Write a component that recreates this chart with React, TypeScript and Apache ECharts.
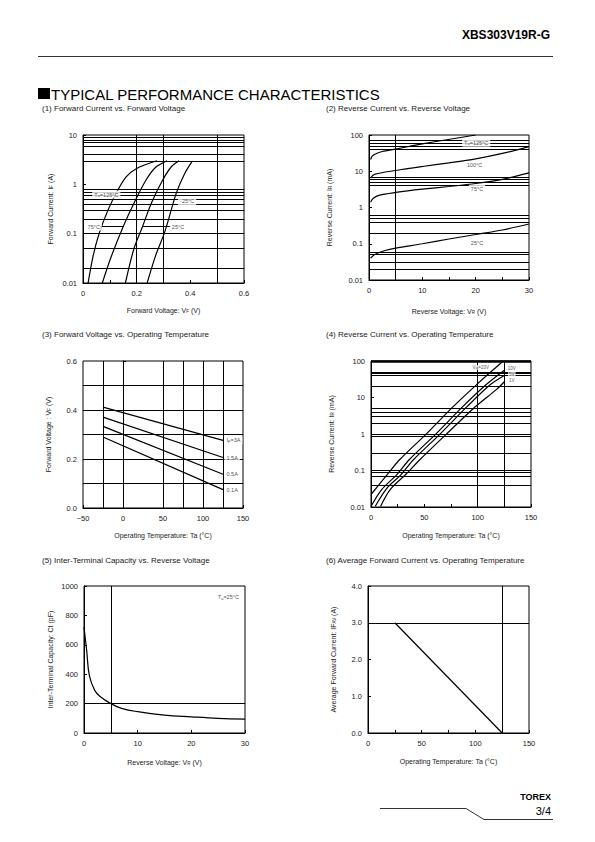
import React, { useEffect, useRef } from 'react';
import * as echarts from 'echarts';

const FONT = '"Liberation Sans", Arial, Helvetica, sans-serif';

// ---------- (1) Forward Current vs. Forward Voltage  [VF (V), IF (A)] ----------
const fwd125C = [[0.019, 0.01], [0.037, 0.034], [0.06, 0.1], [0.093, 0.3], [0.124, 0.67], [0.16, 1.4], [0.2, 2.1], [0.275, 3]];
const fwd75C = [[0.072, 0.01], [0.105, 0.034], [0.15, 0.14], [0.193, 0.45], [0.236, 1.25], [0.27, 2.2], [0.313, 3]];
const fwd25C = [[0.158, 0.01], [0.19, 0.05], [0.222, 0.14], [0.255, 0.42], [0.298, 1.25], [0.33, 2.3], [0.358, 3]];
const fwdM25C = [[0.239, 0.01], [0.27, 0.035], [0.305, 0.11], [0.348, 0.67], [0.38, 1.7], [0.408, 3]];
const c1HGrid = [9, 8, 7, 6, 4, 3, 0.8, 0.7, 0.6, 0.5, 0.4, 0.3, 0.2, 0.1, 0.05, 0.02];
const c1VGrid = [0.2, 0.3, 0.5];
const c1Notes = [
  { text: 'T{s|a}=125°C', at: [0.087, 0.62] },
  { text: '-25°C', at: [0.388, 0.46] },
  { text: '75°C', at: [0.04, 0.139] },
  { text: '25°C', at: [0.354, 0.139] },
];
const c1Arrows = [
  [[0.063, 0.139], [0.153, 0.139]],
  [[0.327, 0.139], [0.223, 0.139]],
];

// ---------- (2) Reverse Current vs. Reverse Voltage  [VR (V), IR (mA)] ----------
const rev125C = [[0.3, 21], [0.6, 26], [1.2, 30], [2.5, 35], [5, 41], [8, 50], [12, 64], [16, 80], [20, 100]];
const rev100C = [[0.3, 6.5], [1, 8.2], [5, 10.5], [10, 13.5], [15, 17], [20, 22], [25, 31], [30, 48]];
const rev75C = [[0.3, 1.4], [0.8, 1.8], [2, 2.2], [5, 2.6], [10, 3.2], [15, 3.8], [20, 4.6], [25, 6], [30, 9]];
const rev25C = [[0.3, 0.04], [1, 0.05], [3, 0.065], [5, 0.076], [10, 0.1], [15, 0.135], [20, 0.18], [25, 0.24], [30, 0.35]];
const c2HGrid = [70, 60, 50, 40, 7, 6, 5, 4, 0.6, 0.5, 0.4, 0.2, 0.06, 0.05, 0.03, 0.02];
const c2VGrid = [5];
const c2Notes = [
  { text: 'T{s|a}=125°C', at: [20.1, 61] },
  { text: '100°C', at: [19.8, 14.5] },
  { text: '75°C', at: [20.25, 3.24] },
  { text: '25°C', at: [20.25, 0.103] },
];

// ---------- (3) Forward Voltage vs. Operating Temperature  [Ta (°C), VF (V)] ----------
const vf3A = [[-25, 0.412], [125, 0.276]];
const vf1p5A = [[-25, 0.371], [125, 0.206]];
const vf0p5A = [[-25, 0.333], [125, 0.138]];
const vf0p1A = [[-25, 0.29], [125, 0.075]];
const c3HGrid = [0.1, 0.2, 0.3, 0.4, 0.5];
const c3VGrid = [-25, 0, 50, 75, 100, 125];
const c3Notes = [
  { text: 'I{s|F}=3A', at: [125, 0.276] },
  { text: '1.5A', at: [125, 0.206] },
  { text: '0.5A', at: [125, 0.138] },
  { text: '0.1A', at: [125, 0.075] },
];

// ---------- (4) Reverse Current vs. Operating Temperature  [Ta (°C), IR (mA)] ----------
const ir20V = [[0, 0.022], [15, 0.076], [27, 0.2], [51, 0.95], [77, 5.6], [99, 22.6], [124, 100]];
const ir10V = [[0, 0.0105], [10, 0.03], [24, 0.076], [36, 0.2], [60, 0.95], [86, 5.6], [108, 22.6], [125, 56]];
const ir5V = [[4, 0.0105], [15, 0.033], [28, 0.076], [40, 0.2], [64, 0.95], [90, 5.6], [112, 22.6], [125, 40]];
const ir1V = [[9, 0.0105], [18, 0.03], [33, 0.08], [46, 0.2], [70, 0.95], [96, 5], [118, 17], [125, 27]];
const c4HGrid = [50, 45, 40, 20, 5, 4, 3, 2, 1, 0.85, 0.3, 0.1, 0.085, 0.07, 0.04];
const c4VGrid = [100, 125];
const c4Notes = [
  { text: 'V{s|R}=20V', at: [102.8, 66] },
  { text: '10V', at: [132, 62] },
  { text: '5V', at: [132, 43] },
  { text: '1V', at: [132, 30] },
];

// ---------- (5) Inter-Terminal Capacity vs. Reverse Voltage  [VR (V), Ct (pF)] ----------
const capacity = [[0, 720], [0.5, 560], [1, 390], [2, 290], [3, 248], [5, 200], [7, 168], [10, 145], [15, 122], [20, 110], [25, 100], [30, 95]];
const c5HGrid = [200];
const c5VGrid = [5];
const c5Notes = [{ text: 'T{s|a}=25°C', at: [26.9, 925] }];

// ---------- (6) Average Forward Current vs. Operating Temperature  [Ta (°C), IFAV (A)] ----------
const derating = [[25, 3], [125, 0]];
const c6HGrid = [3];
const c6VGrid = [125];

// ---------- helpers (styling only) ----------
const BLACK = '#000';
const TXT = '#1a1a1a';
const subRich = { s: { fontSize: 4.5, fontFamily: FONT, color: TXT, verticalAlign: 'bottom', padding: [3, 0, 0, 0] } };

const logFmt = (v: number) => (v >= 1 ? String(Math.round(v)) : String(parseFloat(v.toPrecision(2))));

function xAx(gi: number, min: number, max: number, interval: number, name: string, gap: number, minorSplit = 0, fmt?: (v: number) => string) {
  return {
    type: 'value', gridIndex: gi, min, max, interval,
    axisLine: { show: true, lineStyle: { color: BLACK, width: 1 } },
    axisTick: { show: true, inside: true, length: 3, lineStyle: { color: BLACK } },
    minorTick: { show: minorSplit > 0, splitNumber: minorSplit || 5, length: 3, lineStyle: { color: BLACK } },
    splitLine: { show: false },
    axisLabel: { color: TXT, fontSize: 7.5, fontFamily: FONT, margin: 6, formatter: fmt || ((v: number) => String(v)) },
    name, nameLocation: 'middle', nameGap: gap,
    nameTextStyle: { color: TXT, fontSize: 7, fontFamily: FONT, rich: subRich },
  };
}

function yAx(gi: number, opts: any, name: string, gap: number) {
  const { axisLabel, ...rest } = opts;
  return {
    gridIndex: gi,
    axisLine: { show: true, lineStyle: { color: BLACK, width: 1 } },
    axisTick: { show: true, inside: true, length: 3, lineStyle: { color: BLACK } },
    splitLine: { show: false },
    minorSplitLine: { show: false },
    name, nameLocation: 'middle', nameGap: gap, nameRotate: 90,
    nameTextStyle: { color: TXT, fontSize: 7, fontFamily: FONT, rich: subRich },
    ...rest,
    axisLabel: { color: TXT, fontSize: 7.5, fontFamily: FONT, margin: 6, formatter: (v: number) => String(v), ...(axisLabel || {}) },
  };
}

function curve(gi: number, data: number[][], smooth: number | boolean = 0.3) {
  return {
    type: 'line', xAxisIndex: gi, yAxisIndex: gi, data, symbol: 'none', smooth,
    lineStyle: { color: BLACK, width: 1.2 }, silent: true, z: 3,
    emphasis: { disabled: true },
  };
}

function gridLines(gi: number, h: number[], v: number[], thickTop?: number) {
  const data: any[] = [...h.map((y) => ({ yAxis: y })), ...v.map((x) => ({ xAxis: x }))];
  if (thickTop !== undefined) data.push({ yAxis: thickTop, lineStyle: { width: 2.5 } });
  return {
    type: 'line', xAxisIndex: gi, yAxisIndex: gi, data: [], silent: true, z: 2,
    markLine: {
      silent: true, symbol: 'none', animation: false,
      label: { show: false }, emphasis: { disabled: true },
      lineStyle: { color: BLACK, width: 1, type: 'solid' },
      data,
    },
  };
}

function notes(gi: number, list: { text: string; at: number[] }[], position: any = 'inside', fontSize = 5.5, padding: number[] = [1, 2]) {
  return {
    type: 'scatter', xAxisIndex: gi, yAxisIndex: gi, silent: true, z: 6,
    symbol: 'circle', symbolSize: 1, itemStyle: { color: 'rgba(0,0,0,0)' },
    emphasis: { disabled: true },
    data: list.map((n) => ({ name: n.text, value: n.at })),
    label: {
      show: true, position, distance: 1, formatter: (p: any) => p.name,
      color: TXT, fontSize, fontFamily: FONT, backgroundColor: '#fff', padding, lineHeight: fontSize + 0.5,
      rich: { s: { fontSize: 4, fontFamily: FONT, color: TXT, verticalAlign: 'bottom', padding: [2, 0, 0, 0] } },
    },
  };
}

function arrows(gi: number, list: number[][][]) {
  return {
    type: 'line', xAxisIndex: gi, yAxisIndex: gi, data: [], silent: true, z: 5,
    markLine: {
      silent: true, symbol: ['none', 'arrow'], symbolSize: [0, 5], animation: false,
      label: { show: false }, emphasis: { disabled: true },
      lineStyle: { color: BLACK, width: 1, type: 'solid' },
      data: list.map(([a, b]) => [{ coord: a }, { coord: b }]),
    },
  };
}

const subtitle = (x: number, y: number, text: string) => ({
  type: 'text', x, y, silent: true,
  style: { text, fontSize: 8, fontFamily: FONT, fill: TXT, verticalAlign: 'middle', align: 'left' },
});

export default function App() {
  const ref = useRef<HTMLDivElement>(null);
  useEffect(() => {
    document.body.style.margin = '0';
    if (!ref.current) return;
    const chart = echarts.init(ref.current, undefined, { renderer: 'svg' });
    const gridBox = { show: true, borderColor: BLACK, borderWidth: 1, backgroundColor: 'transparent', containLabel: false };
    const option: any = {
      animation: false,
      backgroundColor: '#fff',
      textStyle: { fontFamily: FONT },
      tooltip: { show: false },
      grid: [
        { ...gridBox, left: 83, top: 135, width: 161, height: 148 },
        { ...gridBox, left: 369, top: 135, width: 160, height: 145 },
        { ...gridBox, left: 83, top: 361, width: 160, height: 147 },
        { ...gridBox, left: 371, top: 361, width: 160, height: 146 },
        { ...gridBox, left: 84, top: 586, width: 161, height: 147 },
        { ...gridBox, left: 368, top: 586, width: 161, height: 147 },
      ],
      xAxis: [
        xAx(0, 0, 0.6, 0.2, 'Forward Voltage: V{s|F} (V)', 23, 2, (v: number) => (v === 0 ? '0' : v.toFixed(1))),
        xAx(1, 0, 30, 10, 'Reverse Voltage: V{s|R} (V)', 27, 2),
        xAx(2, -50, 150, 50, 'Operating Temperature: Ta (°C)', 24, 0, (v: number) => (v < 0 ? '\u2212' + Math.abs(v) : String(v))),
        xAx(3, 0, 150, 50, 'Operating Temperature: Ta (°C)', 25, 2),
        xAx(4, 0, 30, 10, 'Reverse Voltage: V{s|R} (V)', 25),
        xAx(5, 0, 150, 50, 'Operating Temperature: Ta (°C)', 25, 2),
      ],
      yAxis: [
        yAx(0, { type: 'log', logBase: 10, min: 0.01, max: 10, axisLabel: { formatter: logFmt } }, 'Forward Current: I{s|F} (A)', 29),
        yAx(1, { type: 'log', logBase: 10, min: 0.01, max: 100, axisLabel: { formatter: logFmt } }, 'Reverse Current: I{s|R} (mA)', 36),
        yAx(2, { type: 'value', min: 0, max: 0.6, interval: 0.2, axisLabel: { formatter: (v: number) => v.toFixed(1) } }, 'Forward Voltage : V{s|F} (V)', 31),
        yAx(3, { type: 'log', logBase: 10, min: 0.01, max: 100, axisLabel: { formatter: logFmt } }, 'Reverse Current: I{s|R} (mA)', 36),
        yAx(4, { type: 'value', min: 0, max: 1000, interval: 200 }, 'Inter-Terminal Capacity: Ct (pF)', 30),
        yAx(5, { type: 'value', min: 0, max: 4, interval: 1, axisLabel: { formatter: (v: number) => v.toFixed(1) } }, 'Average Forward Current: IF{s|AV} (A)', 31),
      ],
      series: [
        gridLines(0, c1HGrid, c1VGrid),
        curve(0, fwd125C), curve(0, fwd75C), curve(0, fwd25C), curve(0, fwdM25C),
        arrows(0, c1Arrows),
        notes(0, c1Notes),

        gridLines(1, c2HGrid, c2VGrid),
        curve(1, rev125C), curve(1, rev100C), curve(1, rev75C), curve(1, rev25C),
        notes(1, c2Notes),

        gridLines(2, c3HGrid, c3VGrid),
        curve(2, vf3A, false), curve(2, vf1p5A, false), curve(2, vf0p5A, false), curve(2, vf0p1A, false),
        notes(2, c3Notes, 'right'),

        gridLines(3, c4HGrid, c4VGrid, 100),
        curve(3, ir20V), curve(3, ir10V), curve(3, ir5V), curve(3, ir1V),
        notes(3, c4Notes, 'inside', 4.5, [0, 1]),

        gridLines(4, c5HGrid, c5VGrid),
        curve(4, capacity, 0.4),
        notes(4, c5Notes),

        gridLines(5, c6HGrid, c6VGrid),
        curve(5, derating, false),
      ],
      graphic: [
        { type: 'text', x: 550, y: 35, silent: true, style: { text: 'XBS303V19R-G', fontSize: 12, fontWeight: 'bold', fontFamily: FONT, fill: BLACK, align: 'right', verticalAlign: 'middle' } },
        { type: 'line', silent: true, shape: { x1: 38, y1: 56.5, x2: 553, y2: 56.5 }, style: { stroke: '#333', lineWidth: 1 } },
        { type: 'rect', silent: true, shape: { x: 38, y: 88, width: 12, height: 11 }, style: { fill: BLACK } },
        { type: 'text', x: 51, y: 94, silent: true, style: { text: 'TYPICAL PERFORMANCE CHARACTERISTICS', fontSize: 15, fontFamily: FONT, fill: BLACK, align: 'left', verticalAlign: 'middle' } },
        subtitle(42, 108, '(1) Forward Current vs. Forward Voltage'),
        subtitle(326, 108, '(2) Reverse Current vs. Reverse Voltage'),
        subtitle(42, 334, '(3) Forward Voltage vs. Operating Temperature'),
        subtitle(326, 334, '(4) Reverse Current vs. Operating Temperature'),
        subtitle(42, 560, '(5) Inter-Terminal Capacity vs. Reverse Voltage'),
        subtitle(326, 560, '(6) Average Forward Current vs. Operating Temperature'),
        { type: 'text', x: 551, y: 797, silent: true, style: { text: 'TOREX', fontSize: 9, fontWeight: 'bold', fontFamily: FONT, fill: BLACK, align: 'right', verticalAlign: 'middle' } },
        { type: 'text', x: 551, y: 811, silent: true, style: { text: '3/4', fontSize: 11, fontFamily: FONT, fill: BLACK, align: 'right', verticalAlign: 'middle' } },
        { type: 'polyline', silent: true, shape: { points: [[380, 808.5], [466, 808.5], [484, 819.5], [553, 819.5]] }, style: { stroke: '#333', lineWidth: 1, fill: 'none' } },
      ],
    };
    chart.setOption(option);
    return () => chart.dispose();
  }, []);
  return <div ref={ref} style={{ width: 595, height: 842 }} />;
}
